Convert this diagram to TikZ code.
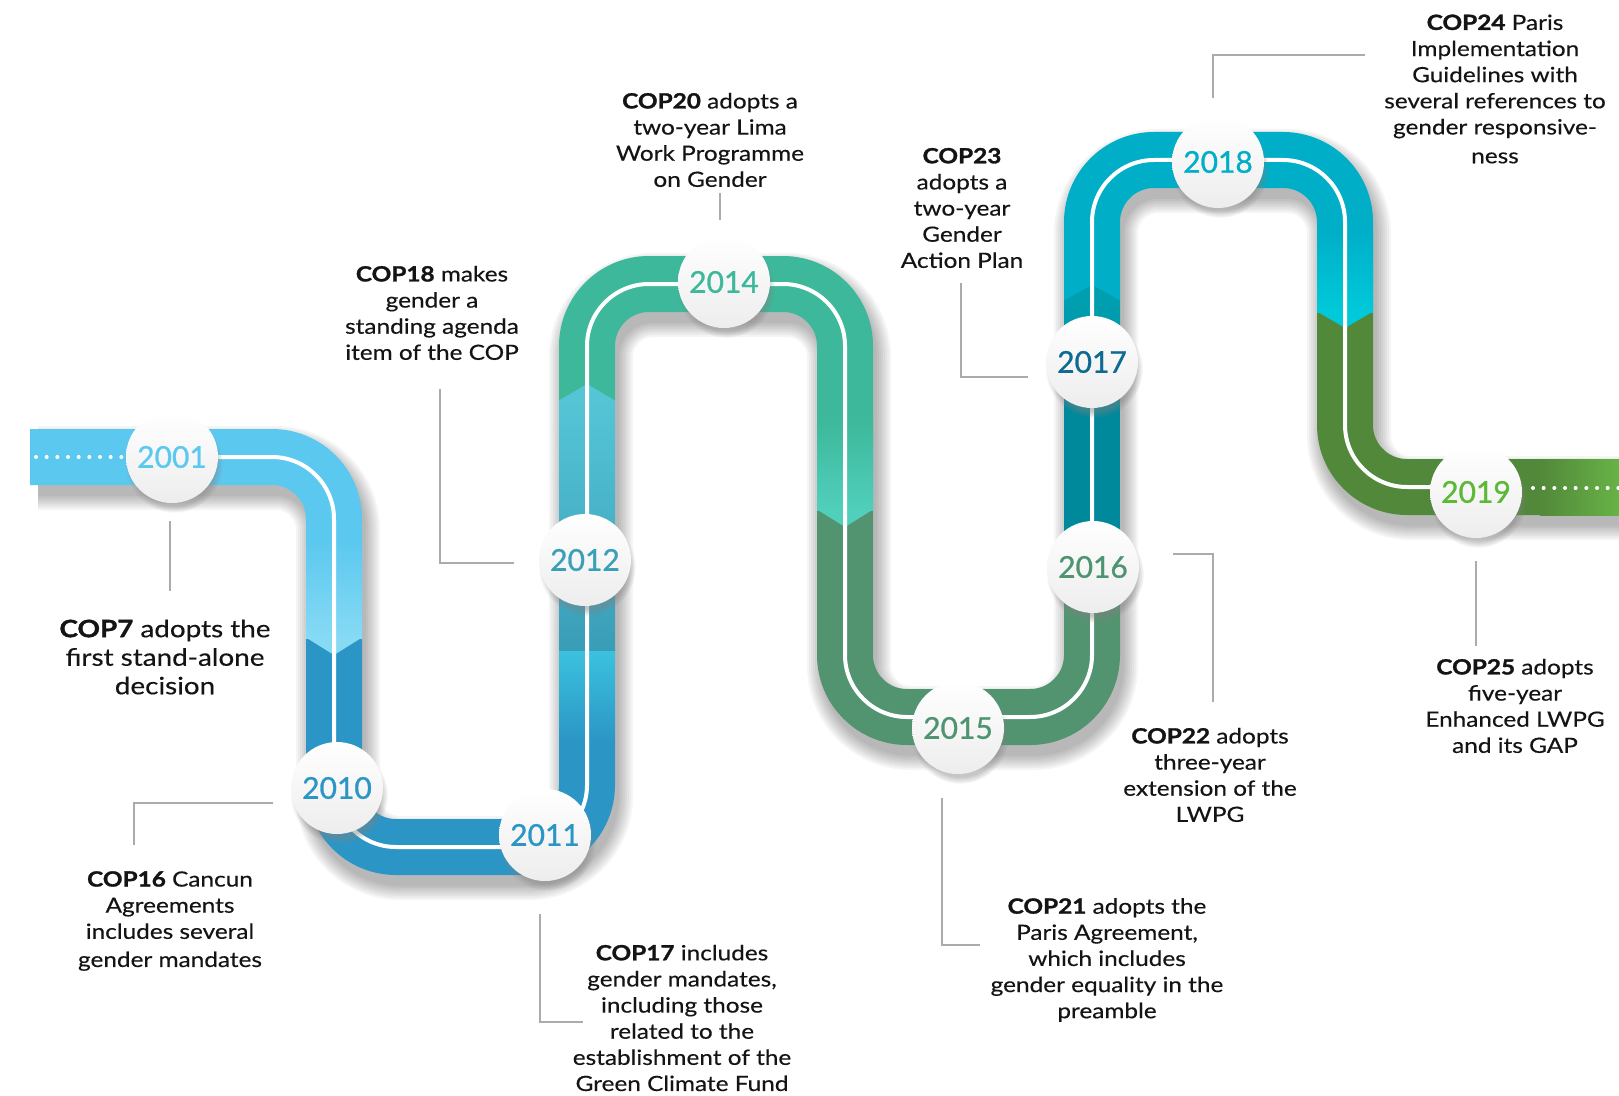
\documentclass[tikz,border=0pt]{standalone}
\usepackage{fontspec}
\setmainfont{Lato}[FakeStretch=1.16, UprightFeatures={FakeBold=0.35}, BoldFeatures={FakeBold=1.3}]
\newfontfamily\yearfont{Lato}[FakeBold=0.9]
\usetikzlibrary{shadows,fadings}
\definecolor{cA}{HTML}{5BC8EF}
\definecolor{cAl}{HTML}{86DAF4}
\definecolor{cB}{HTML}{2B96C6}
\definecolor{cBc}{HTML}{3BC2DE}
\definecolor{cBt}{HTML}{3A9DB8}
\definecolor{cBu}{HTML}{55C5D6}
\definecolor{cC}{HTML}{3DB89A}
\definecolor{cCl}{HTML}{50CFBC}
\definecolor{cD}{HTML}{529470}
\definecolor{cE}{HTML}{00899B}
\definecolor{cEl}{HTML}{009FB0}
\definecolor{cF}{HTML}{00AEC7}
\definecolor{cFl}{HTML}{00C9D9}
\definecolor{cG}{HTML}{52883A}
\definecolor{cGl}{HTML}{6DBE4A}
\definecolor{y01}{HTML}{5BC8EF}
\definecolor{y10}{HTML}{2B96C6}
\definecolor{y12}{HTML}{3AA0B8}
\definecolor{y14}{HTML}{3DB89A}
\definecolor{y15}{HTML}{4E9470}
\definecolor{y17}{HTML}{0F6A93}
\definecolor{y18}{HTML}{00AEC7}
\definecolor{y19}{HTML}{5DB935}
\definecolor{leadgray}{HTML}{ABABAB}
\definecolor{txt}{HTML}{141414}
\definecolor{circbot}{HTML}{EDEDED}
\begin{document}
\begin{tikzpicture}[x=0.75pt,y=-0.75pt,
  road/.style={line width=42pt, line cap=butt, rounded corners=46.5pt},
  wline/.style={white, line width=3pt, rounded corners=46.5pt},
  dotline/.style={white, line width=3pt, line cap=round, dash pattern=on 0pt off 8pt},
  leader/.style={draw=leadgray, line width=1.5pt},
  lbl/.style={align=center, text=txt, inner sep=0pt, font=\fontsize{15.75}{19.6}\selectfont},
  biglbl/.style={align=center, text=txt, inner sep=0pt, font=\fontsize{18}{21.4}\selectfont},
  yearc/.style={circle, minimum size=69pt, inner sep=0pt, top color=white, bottom color=circbot,
    circular drop shadow={shadow xshift=1.5pt, shadow yshift=-5pt, opacity=0.45, shadow scale=1.06},
    font=\yearfont\fontsize{22.5}{22.5}\selectfont}]
\useasboundingbox (0,0) rectangle (1619,1095);
\clip (0,0) rectangle (1619,1095);
% road shadow
\foreach \w in {42,45,48,51,54,57,60,63}{
  \draw[black, opacity=0.038, line width=\w pt, line cap=butt, rounded corners=46.5pt, shift={(4,11)}]
    (34,457) -- (334,457) -- (334,847) -- (587,847) -- (587,284) -- (845,284) -- (845,717)
    -- (1092,717) -- (1092,160) -- (1345,160) -- (1345,487) -- (1640,487);
}
% road pieces
\draw[road, cA] (30,457) -- (334,457) -- (334,638);
\draw[road, cB] (334,638) -- (334,847) -- (587,847) -- (587,740);
\draw[road, cC] (587,400) -- (587,284) -- (845,284) -- (845,510);
\draw[road, cD] (845,510) -- (845,717) -- (1092,717) -- (1092,567);
\draw[road, cE] (1092,567) -- (1092,300);
\draw[road, cF] (1092,300) -- (1092,160) -- (1345,160) -- (1345,312);
\draw[road, cG] (1345,312) -- (1345,487) -- (1640,487);
% gradients
\shade[top color=cA, bottom color=cAl] (306,540) rectangle (362,638);
\shade[top color=cBc, bottom color=cB] (559,650) rectangle (615,740.5);
\shade[top color=cBu, bottom color=cBt] (559,400) rectangle (615,650);
\shade[top color=cC, bottom color=cCl] (817,420) rectangle (873,510);
\shade[top color=cEl, bottom color=cE] (1064,300) rectangle (1120,400);
\shade[top color=cF, bottom color=cFl] (1317,230) rectangle (1373,312);
\shade[left color=cG, right color=cGl] (1540,459) rectangle (1640,515);
% chevrons
\fill[cAl] (306,637.5) -- (334,655) -- (362,637.5) -- cycle;
\fill[cBu] (559,400.5) -- (587,384) -- (615,400.5) -- cycle;
\fill[cCl] (817,509.5) -- (845,527) -- (873,509.5) -- cycle;
\fill[cEl] (1064,300.5) -- (1092,285) -- (1120,300.5) -- cycle;
\fill[cFl] (1317,311.5) -- (1345,328) -- (1373,311.5) -- cycle;
% white centre line
\draw[wline] (172,457) -- (334,457) -- (334,847) -- (587,847) -- (587,284) -- (845,284) -- (845,717)
    -- (1092,717) -- (1092,160) -- (1345,160) -- (1345,487) -- (1476,487);
\draw[dotline] (36,457) -- (124,457);
\draw[dotline] (1533,488) -- (1619,488);
% year circles
\node[yearc, text=y01] (y2001) at (172,457) {2001};
\node[yearc, text=y10] (y2010) at (337,788) {2010};
\node[yearc, text=y10] (y2011) at (545,835) {2011};
\node[yearc, text=y12] (y2012) at (585,560) {2012};
\node[yearc, text=y14] (y2014) at (724,282) {2014};
\node[yearc, text=y15] (y2015) at (958,728) {2015};
\node[yearc, text=y15] (y2016) at (1093,567) {2016};
\node[yearc, text=y17] (y2017) at (1092,362) {2017};
\node[yearc, text=y18] (y2018) at (1218,162) {2018};
\node[yearc, text=y19] (y2019) at (1476,492) {2019};
% labels
\node[biglbl] (t7) at (165,657) {\textbf{COP7} adopts the\\first stand-alone\\decision};
\node[lbl] (t16) at (170,921) {\textbf{COP16} Cancun\\Agreements\\includes several\\[1.5pt]gender mandates};
\node[lbl] (t17) at (682,1018) {\textbf{COP17} includes\\gender mandates,\\including those\\related to the\\establishment of the\\Green Climate Fund};
\node[lbl] (t18) at (432,313) {\textbf{COP18} makes\\gender a\\standing agenda\\item of the COP};
\node[lbl] (t20) at (710,140) {\textbf{COP20} adopts a\\two-year Lima\\Work Programme\\on Gender};
\node[lbl] (t23) at (962,208) {\textbf{COP23}\\adopts a\\two-year\\Gender\\Action Plan};
\node[lbl] (t24) at (1495,89) {\textbf{COP24} Paris\\Implementation\\Guidelines with\\several references to\\gender responsive-\\[2pt]ness};
\node[lbl] (t22) at (1210,775) {\textbf{COP22} adopts\\three-year\\extension of the\\LWPG};
\node[lbl] (t21) at (1107,960) {\textbf{COP21} adopts the\\Paris Agreement,\\which includes\\gender equality in the\\preamble};
\node[lbl] (t25) at (1515,706) {\textbf{COP25} adopts\\five-year\\Enhanced LWPG\\and its GAP};
% leader lines
\coordinate (l7a) at (170,521); \coordinate (l7b) at (170,591);
\coordinate (l16a) at (273,803); \coordinate (l16b) at (134,803); \coordinate (l16c) at (134,845);
\coordinate (l17a) at (540,914); \coordinate (l17b) at (540,1022); \coordinate (l17c) at (583,1022);
\coordinate (l18a) at (440,389); \coordinate (l18b) at (440,563); \coordinate (l18c) at (514,563);
\coordinate (l20a) at (720,193); \coordinate (l20b) at (720,220);
\coordinate (l23a) at (961,283); \coordinate (l23b) at (961,377); \coordinate (l23c) at (1028,377);
\coordinate (l24a) at (1365,55); \coordinate (l24b) at (1213,55); \coordinate (l24c) at (1213,98);
\coordinate (l22a) at (1173,554); \coordinate (l22b) at (1213,554); \coordinate (l22c) at (1213,702);
\coordinate (l21a) at (942,798); \coordinate (l21b) at (942,945); \coordinate (l21c) at (980,945);
\coordinate (l25a) at (1476,561); \coordinate (l25b) at (1476,646);
\draw[leader] (l7a) -- (l7b);
\draw[leader] (l16a) -- (l16b) -- (l16c);
\draw[leader] (l17a) -- (l17b) -- (l17c);
\draw[leader] (l18a) -- (l18b) -- (l18c);
\draw[leader] (l20a) -- (l20b);
\draw[leader] (l23a) -- (l23b) -- (l23c);
\draw[leader] (l24a) -- (l24b) -- (l24c);
\draw[leader] (l22a) -- (l22b) -- (l22c);
\draw[leader] (l21a) -- (l21b) -- (l21c);
\draw[leader] (l25a) -- (l25b);
\end{tikzpicture}
\end{document}
